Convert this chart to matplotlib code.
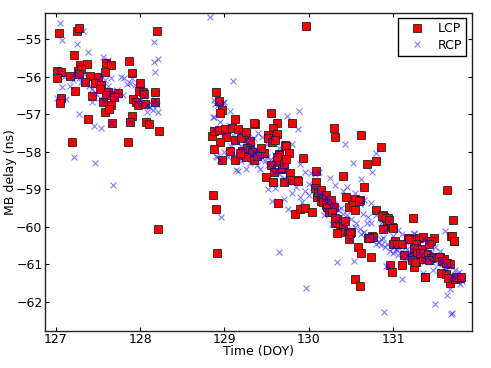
import matplotlib
matplotlib.use("Agg")
import matplotlib.pyplot as plt

# LCP (DOY, delay ns)
lcp = [
    (127.04, -54.85), (127.25, -54.78), (127.28, -54.72), (128.20, -54.80), (127.22, -55.43),
    (127.02, -55.85), (127.06, -55.87), (127.01, -56.05), (127.29, -55.69), (127.37, -55.67),
    (127.26, -55.85), (127.30, -55.81), (127.28, -55.92), (127.17, -55.99), (127.41, -55.99),
    (127.50, -56.00), (127.60, -55.65), (127.65, -55.69), (127.58, -55.87), (127.87, -55.59),
    (127.90, -55.91), (127.06, -56.56), (127.05, -56.70), (127.23, -56.38), (127.35, -56.14),
    (127.47, -56.16), (127.54, -56.23), (127.52, -56.32), (127.43, -56.52), (127.62, -56.42),
    (127.60, -56.49), (127.69, -56.49), (127.74, -56.45), (127.69, -56.55), (127.56, -56.68),
    (127.65, -56.76), (127.58, -56.94), (127.63, -56.87), (127.67, -57.25), (127.38, -57.13),
    (128.00, -56.18), (127.99, -56.38), (128.03, -56.40), (128.05, -56.47), (127.92, -56.61),
    (127.95, -56.67), (127.97, -56.76), (128.06, -56.73), (128.18, -56.67), (128.18, -56.40),
    (127.90, -57.05), (127.88, -57.20), (128.07, -57.22), (128.10, -57.27), (128.22, -57.45),
    (127.19, -57.74), (127.86, -57.74), (128.21, -60.07),
    (128.90, -56.42), (128.93, -56.65), (128.97, -56.88), (128.95, -56.98), (129.12, -57.13),
    (129.55, -56.97), (129.36, -57.27), (129.62, -57.25), (129.58, -57.38), (129.62, -57.54),
    (128.85, -57.59), (128.88, -57.45), (128.94, -57.43), (129.01, -57.41), (129.09, -57.38),
    (129.16, -57.41), (129.02, -57.61), (128.95, -57.74), (129.12, -57.69), (129.19, -57.63),
    (129.26, -57.47), (129.30, -57.72), (128.87, -57.93), (129.06, -57.98), (129.13, -58.23),
    (128.97, -58.23), (129.51, -57.56), (129.52, -57.65), (129.56, -57.74), (129.60, -57.70),
    (129.72, -57.83), (129.46, -58.05), (129.41, -58.07), (129.35, -58.23), (129.23, -58.09),
    (129.21, -57.98), (129.27, -57.90), (129.30, -57.95), (129.65, -58.07), (129.65, -58.27),
    (129.49, -58.67), (129.68, -58.45), (129.80, -57.25), (129.73, -57.85), (129.64, -58.08),
    (129.76, -58.03), (129.35, -57.25), (129.47, -58.05), (129.93, -58.17), (129.71, -58.30),
    (129.68, -58.43), (129.78, -58.56), (129.86, -58.76), (129.78, -58.76), (129.57, -58.80),
    (129.70, -58.80), (128.86, -59.15), (128.90, -59.53), (128.91, -60.71), (129.97, -54.65),
    (129.33, -58.00), (129.38, -58.12), (129.25, -58.15), (129.18, -58.05), (129.43, -57.90),
    (129.62, -58.15), (129.55, -58.35), (129.59, -58.55), (129.70, -58.33), (129.87, -58.78),
    (130.30, -57.38), (130.31, -57.60), (130.62, -57.56), (130.85, -57.89), (130.80, -58.24),
    (130.69, -58.33), (130.40, -58.65), (130.08, -58.51), (130.09, -58.80),
    (131.64, -59.02), (131.71, -59.83), (131.72, -60.38), (131.68, -60.26), (131.23, -59.78),
    (129.63, -59.37), (129.83, -59.65), (129.89, -59.54), (129.95, -59.51), (130.04, -59.60),
    (130.07, -58.97), (130.65, -58.93), (130.55, -59.27), (130.44, -59.21), (130.51, -59.43),
    (130.47, -59.47), (130.79, -59.56), (130.88, -59.68), (130.94, -59.77), (130.89, -59.75),
    (130.92, -59.95), (130.99, -60.00), (130.88, -60.07), (130.70, -60.29), (130.75, -60.26),
    (130.33, -59.80), (130.35, -59.91), (130.41, -59.98), (130.37, -60.15), (130.33, -60.18),
    (130.47, -60.18), (130.50, -60.15), (130.58, -60.55), (130.62, -60.69), (130.73, -60.80),
    (130.55, -61.40), (130.60, -61.57), (130.96, -61.02), (130.99, -61.20), (131.10, -61.03),
    (131.13, -60.76), (131.02, -60.39), (131.09, -60.47), (131.18, -60.29), (131.21, -60.33),
    (131.30, -60.29), (131.35, -60.27), (131.27, -60.45), (131.24, -60.60), (131.34, -60.60),
    (131.22, -60.80), (131.27, -60.93), (131.25, -61.07), (131.37, -61.34), (131.35, -60.87),
    (131.40, -60.73), (131.45, -60.84), (131.48, -60.82), (131.55, -60.80), (131.60, -60.87),
    (131.64, -60.98), (131.67, -61.00), (131.57, -61.22), (131.62, -61.27), (131.67, -61.51),
    (131.65, -61.36), (131.73, -61.40), (131.79, -61.36), (131.48, -60.29), (131.45, -60.38),
    (131.42, -60.45), (130.10, -59.22), (130.14, -59.31), (130.16, -59.22), (130.17, -59.35),
    (130.20, -59.43), (130.22, -59.48), (130.24, -59.60), (130.31, -59.90), (130.43, -59.85),
    (130.76, -60.27), (131.38, -61.34), (131.69, -60.25), (131.72, -60.39),
    (130.11, -59.07), (130.14, -59.02), (130.20, -59.15), (130.26, -59.29), (130.30, -59.47),
    (130.60, -59.29), (130.27, -59.60), (130.52, -59.43), (130.59, -59.31), (130.55, -59.56),
    (130.31, -59.78), (130.49, -60.16), (130.48, -60.34), (130.71, -60.31), (130.87, -59.72),
    (130.91, -59.78), (130.95, -59.82), (131.00, -60.03), (131.00, -60.45), (131.04, -60.45),
    (131.10, -60.45), (131.19, -60.33), (131.25, -60.58), (131.28, -60.69), (131.32, -60.71),
    (131.22, -60.89), (131.26, -60.94), (131.42, -60.89), (131.54, -60.80), (131.58, -60.91),
    (131.62, -60.98), (131.74, -61.34), (131.80, -61.34), (129.73, -58.20),
]

# RCP (DOY, delay ns)
rcp = [
    (127.05, -54.58), (127.07, -55.04), (127.25, -55.14), (127.32, -54.78), (127.38, -55.34),
    (127.56, -55.47), (127.62, -55.55), (128.83, -54.41), (128.16, -55.09), (128.17, -55.62),
    (128.21, -55.53), (128.18, -55.87), (129.10, -56.11), (127.01, -56.58), (127.07, -56.27),
    (127.04, -55.87), (127.17, -56.24), (127.21, -56.09), (127.28, -56.05), (127.33, -55.94),
    (127.28, -57.00), (127.43, -56.34), (127.43, -56.67), (127.45, -57.33), (127.54, -57.37),
    (127.47, -58.30), (127.22, -58.14), (127.57, -56.65), (127.59, -56.09), (127.54, -55.96),
    (127.66, -56.05), (127.62, -56.24), (127.77, -56.00), (127.81, -56.05), (127.91, -56.05),
    (127.94, -56.23), (127.88, -56.16), (128.02, -56.33), (128.05, -56.53), (127.95, -56.69),
    (128.01, -56.74), (128.08, -56.75), (128.14, -56.76), (128.20, -56.77), (128.18, -56.62),
    (127.71, -56.56), (127.65, -56.38), (127.53, -56.56), (127.88, -57.22), (127.68, -58.88),
    (127.10, -56.00), (127.25, -55.90), (127.47, -56.45), (127.50, -56.10), (127.73, -56.35),
    (127.80, -56.50), (127.12, -56.60), (127.40, -56.25), (127.85, -56.20), (128.00, -56.62),
    (128.10, -56.80), (127.19, -55.96), (127.30, -56.15), (127.62, -56.53), (128.15, -56.90),
    (127.65, -57.25), (128.08, -56.94), (128.21, -56.94),
    (128.87, -56.63), (128.86, -57.07), (128.99, -56.67), (129.06, -56.91), (128.88, -57.41),
    (128.90, -58.12), (129.04, -58.15), (129.14, -58.50), (129.25, -58.45), (128.96, -59.74),
    (129.74, -57.05), (129.88, -56.92), (129.87, -57.39), (129.80, -57.81), (129.90, -58.33),
    (129.95, -58.54), (129.59, -58.55), (129.35, -57.65), (128.92, -56.75), (128.95, -57.20),
    (129.00, -57.50), (129.05, -57.30), (129.10, -57.55), (129.15, -57.75), (129.20, -57.85),
    (129.22, -57.95), (129.25, -57.80), (129.28, -58.05), (129.30, -57.90), (129.32, -58.10),
    (129.35, -58.00), (129.37, -58.15), (129.40, -57.95), (129.42, -58.20), (129.45, -58.10),
    (129.48, -58.25), (129.50, -58.15), (129.52, -58.35), (129.55, -58.20), (129.58, -58.40),
    (129.60, -58.30), (129.62, -58.50), (129.65, -58.60), (129.68, -58.35), (129.70, -58.70),
    (129.72, -58.50), (129.75, -58.80), (129.45, -57.60), (129.50, -57.80), (129.40, -57.50),
    (129.18, -57.50), (129.08, -57.85), (129.00, -58.00), (129.12, -58.10), (129.30, -58.30),
    (129.42, -58.45), (129.28, -57.60), (129.55, -57.65), (129.65, -57.90), (129.20, -58.25),
    (129.38, -58.35), (129.60, -58.10), (129.26, -57.70), (129.33, -57.85), (129.36, -58.05),
    (128.89, -56.73), (128.98, -56.70), (128.87, -57.07), (128.91, -58.15), (128.95, -58.23),
    (129.16, -58.51),
    (130.43, -57.80), (130.79, -58.03), (130.75, -58.54), (130.52, -58.30), (130.03, -58.58),
    (130.07, -58.60), (130.62, -58.72), (130.31, -58.89), (129.64, -60.67), (129.97, -61.62),
    (130.33, -60.94), (130.54, -60.91), (130.89, -62.26), (131.10, -61.38), (131.50, -62.07),
    (131.70, -62.31), (131.68, -62.33), (131.64, -61.83), (131.67, -61.66), (131.79, -61.53),
    (131.81, -61.45), (131.61, -60.11), (131.25, -60.18), (131.35, -61.22), (131.47, -61.16),
    (130.91, -61.05), (130.94, -61.05), (130.73, -59.89), (130.69, -59.89), (130.64, -59.65),
    (130.73, -59.36), (130.56, -59.89), (130.49, -60.33), (130.27, -59.92), (129.92, -59.33),
    (129.75, -59.53), (129.70, -59.27), (129.56, -59.31), (129.52, -59.00), (129.60, -58.98),
    (130.85, -60.33), (130.88, -60.30), (131.00, -60.55), (131.04, -60.62), (131.24, -60.20),
    (131.36, -60.29), (131.40, -60.40), (131.17, -60.75), (131.19, -60.84), (131.40, -60.84),
    (131.45, -60.70), (131.58, -60.93), (131.62, -61.00), (131.73, -61.15), (131.76, -61.25),
    (131.78, -61.20), (130.00, -58.85), (130.05, -58.95), (130.10, -59.05), (130.12, -59.15),
    (130.15, -59.10), (130.18, -59.25), (130.20, -59.20), (130.22, -59.35), (130.25, -59.30),
    (130.28, -59.45), (130.30, -59.40), (130.35, -59.55), (130.38, -59.50), (130.40, -59.65),
    (130.45, -59.70), (130.50, -59.80), (130.55, -60.00), (130.60, -60.05), (130.62, -60.20),
    (130.65, -60.15), (130.70, -60.25), (130.75, -60.35), (130.78, -60.30), (130.80, -60.45),
    (130.83, -60.40), (130.86, -60.50), (130.90, -60.55), (130.93, -60.45), (130.96, -60.65),
    (131.00, -60.70), (131.03, -60.60), (131.06, -60.75), (131.10, -60.65), (131.13, -60.85),
    (131.16, -60.60), (131.20, -60.70), (131.23, -60.55), (131.26, -60.80), (131.30, -60.65),
    (131.33, -60.75), (131.36, -60.95), (131.40, -60.60), (131.43, -60.85), (131.46, -60.95),
    (131.50, -60.75), (131.53, -61.00), (131.56, -60.85), (131.60, -61.10), (131.63, -61.15),
    (131.66, -61.05), (131.70, -61.30), (131.74, -61.35), (131.68, -61.40),
    (130.12, -58.55), (130.25, -58.70), (130.45, -58.95), (130.55, -59.10), (130.40, -59.05),
    (130.60, -59.40), (130.65, -59.30), (130.80, -59.70), (130.85, -59.90), (130.95, -59.85),
    (131.05, -60.10), (131.10, -60.20), (131.15, -60.40), (131.30, -60.45), (131.50, -60.55),
    (131.55, -60.65), (130.20, -59.55), (130.30, -59.70), (130.35, -59.85), (130.40, -59.95),
    (130.45, -60.05), (130.18, -59.70), (130.70, -59.75), (130.90, -60.10), (131.00, -60.25),
    (129.85, -58.95), (129.80, -59.10), (129.90, -59.20), (129.95, -59.05), (130.00, -59.15),
]

x_ticks = [127, 128, 129, 130, 131]
y_ticks = [-55, -56, -57, -58, -59, -60, -61, -62]
x_label = "Time (DOY)"
y_label = "MB delay (ns)"

plt.rcParams['font.family'] = ['DejaVu Sans']
plt.rcParams['font.size'] = 9

fig = plt.figure(figsize=(4.91, 3.68), dpi=100)
ax = fig.add_axes([45.3 / 491, 1 - 330.7 / 368, (471.7 - 45.3) / 491, (330.7 - 12.7) / 368])

lx = [p[0] for p in lcp]
ly = [p[1] for p in lcp]
rx = [p[0] for p in rcp]
ry = [p[1] for p in rcp]

ax.plot(lx, ly, linestyle='none', marker='s', markersize=5.3, markerfacecolor='#ff0000',
        markeredgecolor='#222222', markeredgewidth=0.6, label='LCP')
ax.plot(rx, ry, linestyle='none', marker='x', markersize=5, color='#0000ff', alpha=0.5,
        markeredgewidth=0.8, label='RCP')

ax.set_xlim(126.877, 131.929)
ax.set_ylim(-62.77, -54.30)
ax.set_xticks(x_ticks)
ax.set_yticks(y_ticks)
ax.tick_params(direction='in', length=3, width=0.8, top=True, right=True, pad=2)
for s in ax.spines.values():
    s.set_linewidth(1.0)
    s.set_color('#222222')
ax.set_xlabel(x_label, labelpad=-1)
ax.set_ylabel(y_label, labelpad=-1)

leg = ax.legend(loc='upper right', numpoints=1, fancybox=False, framealpha=1,
                edgecolor='black', handlelength=2.4, handletextpad=0.5,
                borderaxespad=0.45, borderpad=0.3, labelspacing=0.3, fontsize=9)
leg.get_frame().set_linewidth(1.0)

fig.savefig('out.png', dpi=100)
